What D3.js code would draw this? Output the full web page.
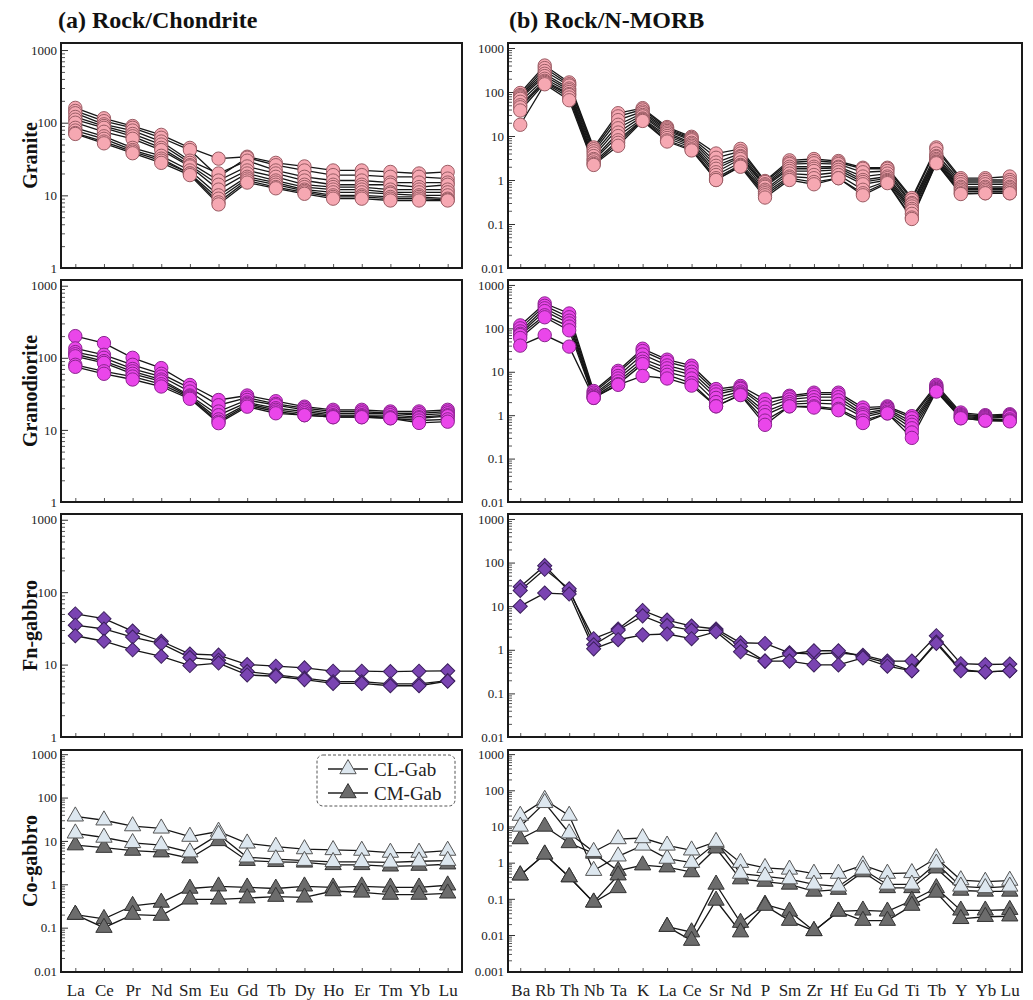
<!DOCTYPE html>
<html><head><meta charset="utf-8">
<script src="https://cdn.jsdelivr.net/npm/d3@7"></script>
<style>body{margin:0;background:#fff} svg{display:block}</style>
</head><body>
<svg id="c" width="1033" height="1000"></svg>
<script>
const reeElements = ["La","Ce","Pr","Nd","Sm","Eu","Gd","Tb","Dy","Ho","Er","Tm","Yb","Lu"];
const spiderElements = ["Ba","Rb","Th","Nb","Ta","K","La","Ce","Sr","Nd","P","Sm","Zr","Hf","Eu","Gd","Ti","Tb","Y","Yb","Lu"];
const rowNames = ["Granite","Granodiorite","Fn-gabbro","Co-gabbro"];
const panelTitles = ["(a) Rock/Chondrite","(b) Rock/N-MORB"];
const legendLabels = ["CL-Gab","CM-Gab"];
const ticksREE = [1,10,100,1000];
const ticksSpider = [0.01,0.1,1,10,100,1000];
const ticksCoREE = [0.01,0.1,1,10,100,1000];
const ticksCoSpider = [0.001,0.01,0.1,1,10,100,1000];

const graniteREE = [
 [160,115,90,68,45,32,34,28,25,22,22,21,20,21],
 [145,105,85,62,42,18,33,26,22,19,19,18,18,17],
 [135,95,78,55,30,20,30,22,18,16,16,15,15,15],
 [120,90,70,50,28,16,25,20,16,14,14,14,13,14],
 [110,85,65,45,26,14,22,18,14,13,13,12,12,12],
 [100,75,60,42,25,12,20,16,13,12,12,11,11,11],
 [85,65,45,35,22,10,18,15,12,11,11,10.5,10,10],
 [78,60,42,32,20,9,17,14,11.5,10,10,9.5,9.5,9],
 [72,55,40,30,20,8,16,13,11,9.5,9.5,9,9,8.7],
 [70,52,38,28,19,7.5,15,12.5,10.5,9,9,8.5,8.5,8.5]
];
const graniteSpider = [
 [95,400,165,5.5,33,43,16,9.6,4,5.1,0.95,2.8,3,2.7,1.9,1.9,0.39,5.5,1.1,1.1,1.2],
 [85,350,150,5,28,40,15,9,3.2,4.5,0.9,2.5,2.7,2.5,1.8,1.8,0.35,5,1.0,1.0,1.0],
 [80,300,140,4.5,23,36,14,8.5,2.5,4,0.8,2.3,2.4,2.3,1.5,1.6,0.3,4,0.9,0.9,0.9],
 [75,260,120,4,18,33,13,8,2.1,3.5,0.75,2,2,2,1.2,1.4,0.28,3.5,0.8,0.8,0.8],
 [70,230,110,3.5,15,30,12,7,1.8,3.3,0.7,1.8,1.8,1.9,1,1.2,0.25,3.3,0.7,0.7,0.7],
 [60,200,100,3,12,28,11,6.5,1.5,3,0.6,1.6,1.6,1.7,0.9,1.1,0.22,3,0.65,0.65,0.65],
 [50,180,90,2.8,10,25,10,6,1.3,2.5,0.55,1.4,1.3,1.5,0.8,1.0,0.2,2.8,0.6,0.6,0.6],
 [45,170,85,2.5,8,24,9,5.5,1.1,2.2,0.5,1.2,1.1,1.3,0.6,0.95,0.17,2.6,0.55,0.55,0.55],
 [38,160,75,2.3,7,23,8,5,1.0,2.1,0.45,1.1,0.9,1.1,0.5,0.9,0.14,2.5,0.5,0.5,0.5],
 [18,150,65,2.2,6,22,7.5,4.7,1.0,2,0.4,1.0,0.8,1.1,0.45,0.85,0.13,2.4,0.48,0.5,0.5]
];
const granodioriteREE = [
 [200,160,100,72,42,26,30,25,21,19,19,18,18,19],
 [135,110,80,60,38,22,28,23,20,18,18,17,17,18],
 [120,100,70,55,34,18,26,22,19,17,17,17,16,17],
 [112,90,65,50,30,16,24,20,18,16,16,16,15,16],
 [105,85,60,47,29,14,23,19,17,15.5,15.5,15,14.5,15.5],
 [80,65,55,43,28,13,22,18,16,15,15,14.5,13.5,14],
 [75,60,50,40,27,12.4,21,17,16,15,15,14.5,12.5,13]
];
const granodioriteSpider = [
 [117,375,220,3.6,10.5,34,19,13.8,4,4.7,2.3,2.8,3.3,3.3,1.5,1.6,0.95,5,1.15,1.0,1.05],
 [100,330,180,3.3,9.5,30,17,12,3.5,4.3,1.8,2.6,3.0,3.0,1.3,1.5,0.85,4.6,1.05,0.95,1.0],
 [85,290,150,3,8,25,14,10,3,4,1.5,2.3,2.6,2.6,1.1,1.4,0.7,4.3,1,0.9,0.95],
 [75,250,130,2.8,7,20,12,8.5,2.5,3.5,1.2,2.0,2.2,2.2,1,1.3,0.6,4,0.95,0.85,0.9],
 [70,200,110,2.6,6,17,10,7,2,3.2,1,1.8,1.9,1.8,0.9,1.2,0.5,3.8,0.9,0.8,0.8],
 [60,180,90,2.5,5.2,15,8.5,5.5,1.6,3,0.75,1.6,1.6,1.4,0.75,1.1,0.4,3.6,0.85,0.75,0.75],
 [40,70,38,2.5,5,8,7,4.8,1.6,2.9,0.6,1.6,1.5,1.3,0.66,1.1,0.3,3.5,0.85,0.75,0.72]
];
const fnGabbroREE = [
 [50,43,29,21,14,13.5,10,9.5,9,8.1,8.1,8,8.1,8.2],
 [35,31,24,19.5,12.5,11.5,8,7.2,6.5,5.8,5.8,5.4,5.4,6.0],
 [25,21,16,13,9.7,10.5,7.2,6.9,6.2,5.5,5.5,5.1,5.1,5.9]
];
const fnGabbroSpider = [
 [28,85,22,1.8,3.0,8,4.8,3.5,3.0,1.45,1.4,0.85,0.8,0.85,0.75,0.55,0.55,2.1,0.48,0.46,0.47],
 [23,70,25,1.3,2.8,6,3.6,2.8,2.8,1.2,0.55,0.8,0.95,0.95,0.7,0.5,0.33,1.5,0.35,0.31,0.33],
 [10,20,19,1.05,1.7,2.2,2.3,1.8,2.6,0.9,0.55,0.55,0.45,0.45,0.65,0.42,0.33,1.4,0.33,0.31,0.33]
];
const clGabREE = [
 [37,30,22,19.5,12.6,16.5,8.8,7.4,6.5,6.2,6.0,5.4,5.4,6.0],
 [15,12,9,8,5.5,14,4.2,3.8,3.5,3.3,3.3,3.2,3.4,3.5]
];
const cmGabREE = [
 [8,7,6,5.5,4,10,3.5,3.3,3.2,2.8,2.8,2.6,2.7,2.9],
 [0.2,0.16,0.32,0.38,0.8,0.9,0.85,0.8,0.9,0.85,0.9,0.85,0.85,0.95],
 [0.2,0.1,0.2,0.19,0.45,0.45,0.48,0.52,0.5,0.7,0.65,0.58,0.58,0.62]
];
const clGabSpider = [
 [20,55,20,0.6,1.5,3.0,1.3,1.0,3.5,1.0,0.72,0.65,0.5,0.5,0.85,0.5,0.52,1.35,0.33,0.3,0.32],
 [10,45,6.5,2.0,4.5,4.8,3.0,2.2,3.8,0.5,0.42,0.35,0.25,0.22,0.65,0.25,0.25,0.95,0.22,0.2,0.22]
];
const cmGabSpider = [
 [4.5,10,3.5,1.8,0.6,0.85,0.75,0.55,2.5,0.35,0.3,0.25,0.16,0.18,0.55,0.2,0.2,0.7,0.17,0.16,0.16],
 [0.45,1.7,0.4,0.08,0.45,null,0.017,0.012,0.25,0.022,0.07,0.045,0.013,0.045,0.048,0.045,0.09,0.2,0.048,0.048,0.05],
 [0.45,1.7,0.4,0.08,0.2,null,0.017,0.007,0.09,0.012,0.065,0.025,0.013,0.045,0.025,0.025,0.065,0.15,0.028,0.032,0.033]
];

const svg = d3.select("#c");
const FONT = "'Liberation Serif','Times New Roman',serif";
const colX = [[61,462],[508,1022]];
const rowY = [[43,268],[280,502],[514,737],[750,972]];

const styles = {
  granite: {shape:"circle", fill:"#f6a8b2", stroke:"#9a5c64"},
  granodiorite: {shape:"circle", fill:"#ea46ea", stroke:"#8c2390"},
  fn: {shape:"diamond", fill:"#7a44b2", stroke:"#3b1f5c"},
  cl: {shape:"triangle", fill:"#dde7ef", stroke:"#555"},
  cm: {shape:"triangle", fill:"#6c6c6c", stroke:"#333"}
};
function symbolPath(shape){
  if(shape==="circle") return d3.symbol().type(d3.symbolCircle).size(140)();
  if(shape==="diamond") return d3.symbol().type(d3.symbolSquare).size(100)();
  return d3.symbol().type(d3.symbolTriangle).size(115)();
}

function panel(col,row,cats,ymin,ymax,majorTicks,groups,showLabels){
  const [x0,x1]=colX[col],[y0,y1]=rowY[row];
  const x=d3.scalePoint().domain(cats).range([x0,x1]).padding(0.5);
  const y=d3.scaleLog().domain([ymin,ymax]).range([y1,y0]);
  const g=svg.append("g");
  const minor=y.ticks().filter(v=>Math.abs(Math.log10(v)-Math.round(Math.log10(v)))>1e-6);
  g.append("g").attr("transform",`translate(${x0},0)`)
    .call(d3.axisLeft(y).tickValues(minor).tickSizeInner(-4).tickSizeOuter(0).tickFormat(()=>""))
    .call(a=>a.select(".domain").remove())
    .call(a=>a.selectAll("line").attr("stroke","#555"));
  g.append("g").attr("transform",`translate(${x0},0)`)
    .call(d3.axisLeft(y).tickValues(majorTicks).tickSizeInner(-7).tickSizeOuter(0).tickPadding(4).tickFormat(d3.format("~g")))
    .call(a=>a.select(".domain").remove())
    .call(a=>a.selectAll("line").attr("stroke","#333"))
    .call(a=>a.selectAll("text").attr("font-family",FONT).attr("font-size",13).attr("fill","#222"));
  g.append("g").attr("transform",`translate(0,${y1})`)
    .call(d3.axisBottom(x).tickSizeInner(-4).tickSizeOuter(0).tickPadding(12).tickFormat(showLabels?null:()=>""))
    .call(a=>a.select(".domain").remove())
    .call(a=>a.selectAll("line").attr("stroke","#555"))
    .call(a=>a.selectAll("text").attr("font-family",FONT).attr("font-size",17).attr("fill","#222"));
  const line=d3.line().defined(d=>d!=null).x((d,i)=>x(cats[i])).y(d=>y(d));
  groups.forEach(gr=>{
    g.append("g").selectAll("path").data(gr.data).join("path")
      .attr("d",line).attr("fill","none").attr("stroke","#161616").attr("stroke-width",1.3);
  });
  groups.forEach(gr=>{
    const st=styles[gr.style];const p=symbolPath(st.shape);
    gr.data.forEach(series=>{
      g.append("g").selectAll("path").data(series.map((v,i)=>({v,i})).filter(d=>d.v!=null)).join("path")
        .attr("d",p)
        .attr("transform",d=>`translate(${x(cats[d.i])},${y(d.v)})${st.shape==="diamond"?" rotate(45)":""}`)
        .attr("fill",st.fill).attr("stroke",st.stroke).attr("stroke-width",1);
    });
  });
  g.append("rect").attr("x",x0).attr("y",y0).attr("width",x1-x0).attr("height",y1-y0)
    .attr("fill","none").attr("stroke","#1a1a1a").attr("stroke-width",2);
  return {x,y};
}

panel(0,0,reeElements,1,1250,ticksREE,[{data:graniteREE,style:"granite"}],false);
panel(1,0,spiderElements,0.01,1300,ticksSpider,[{data:graniteSpider,style:"granite"}],false);
panel(0,1,reeElements,1,1200,ticksREE,[{data:granodioriteREE,style:"granodiorite"}],false);
panel(1,1,spiderElements,0.01,1300,ticksSpider,[{data:granodioriteSpider,style:"granodiorite"}],false);
panel(0,2,reeElements,1,1200,ticksREE,[{data:fnGabbroREE,style:"fn"}],false);
panel(1,2,spiderElements,0.01,1300,ticksSpider,[{data:fnGabbroSpider,style:"fn"}],false);
panel(0,3,reeElements,0.0095,1250,ticksCoREE,[{data:cmGabREE,style:"cm"},{data:clGabREE,style:"cl"}],true);
panel(1,3,spiderElements,0.00095,1300,ticksCoSpider,[{data:cmGabSpider,style:"cm"},{data:clGabSpider,style:"cl"}],true);

// titles
svg.append("text").attr("x",58).attr("y",28).text(panelTitles[0])
  .attr("font-family",FONT).attr("font-weight","bold").attr("font-size",24).attr("fill","#111");
svg.append("text").attr("x",509).attr("y",28).text(panelTitles[1])
  .attr("font-family",FONT).attr("font-weight","bold").attr("font-size",24).attr("fill","#111");
// row labels
rowNames.forEach((n,i)=>{
  const cy=(rowY[i][0]+rowY[i][1])/2;
  svg.append("text").attr("transform",`translate(30,${cy}) rotate(-90)`)
    .attr("text-anchor","middle").attr("dominant-baseline","central").text(n)
    .attr("font-family",FONT).attr("font-weight","bold").attr("font-size",20).attr("fill","#111");
});
// legend
const lg=svg.append("g");
lg.append("rect").attr("x",317).attr("y",755).attr("width",138).attr("height",51).attr("rx",6)
  .attr("fill","#fff").attr("stroke","#555").attr("stroke-width",1).attr("stroke-dasharray","3,2");
legendLabels.forEach((lab,i)=>{
  const yy=769+i*24;const st=styles[i===0?"cl":"cm"];
  lg.append("line").attr("x1",328).attr("x2",368).attr("y1",yy).attr("y2",yy).attr("stroke","#222").attr("stroke-width",1.3);
  lg.append("path").attr("d",symbolPath("triangle")).attr("transform",`translate(348,${yy})`)
    .attr("fill",st.fill).attr("stroke",st.stroke);
  lg.append("text").attr("x",374).attr("y",yy).attr("dominant-baseline","central").text(lab)
    .attr("font-family",FONT).attr("font-size",19).attr("fill","#222");
});
</script>
</body></html>
